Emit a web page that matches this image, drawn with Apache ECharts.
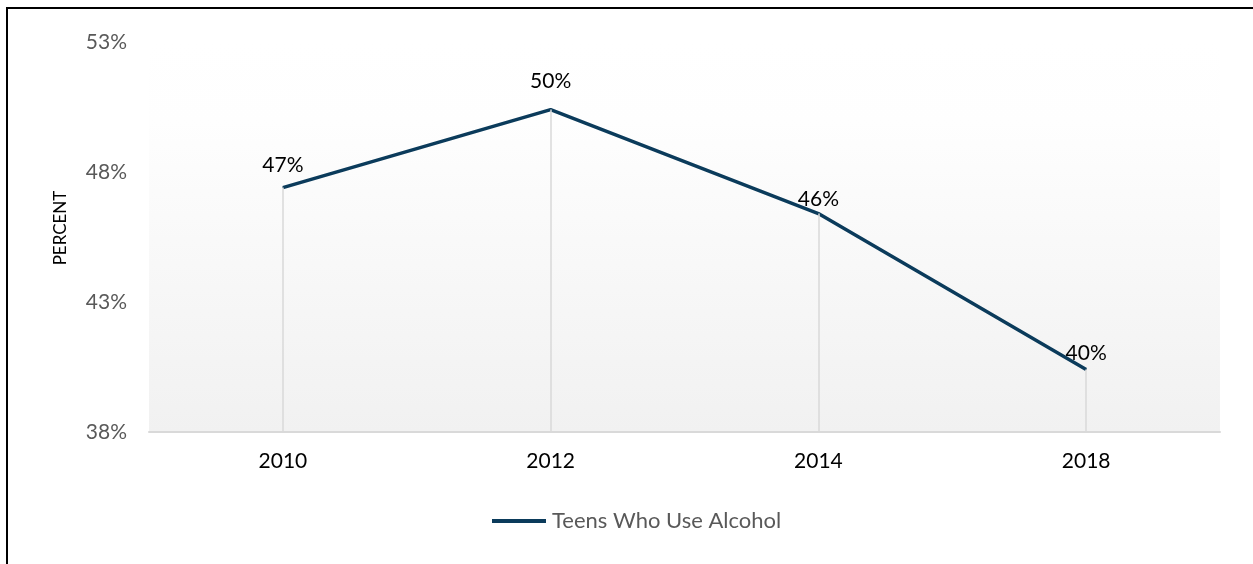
<!DOCTYPE html>
<html>
<head>
<meta charset="utf-8">
<script src="https://cdn.jsdelivr.net/npm/echarts@6/dist/echarts.min.js"></script>
<style>
  html, body { margin: 0; padding: 0; background: #ffffff; }
  #chart { width: 1253px; height: 564px; }
</style>
</head>
<body>
<div id="chart"></div>
<script>
// Survey years and share of teens reporting alcohol use (percent)
const years = ['2010', '2012', '2014', '2018'];
const alcoholUse = [47.4, 50.4, 46.4, 40.4];
const seriesName = 'Teens Who Use Alcohol';
const yTicks = { min: 38, max: 53, step: 5 };

// Vertical offset of each value label above its point
const labelLift = [11, 17, 3, 5];

const font = 'Lato, "Open Sans", "Noto Sans", sans-serif';
const lineColor = '#0b3b5b';

const chart = echarts.init(document.getElementById('chart'), null, { renderer: 'canvas' });

const seriesData = alcoholUse.map((v, i) => ({
  value: v,
  label: { distance: labelLift[i] }
}));

// Drop lines from each point down to the category axis
const dropLines = alcoholUse.map((v, i) => [
  { coord: [years[i], yTicks.min] },
  { coord: [years[i], v] }
]);

chart.setOption({
  animation: false,
  backgroundColor: '#ffffff',
  graphic: [{
    type: 'rect',
    shape: { x: 7, y: 8, width: 1400, height: 700 },
    style: { fill: 'none', stroke: '#000000', lineWidth: 2 },
    silent: true,
    z: 100
  }],
  grid: {
    left: 149,
    right: 33,
    top: 42,
    bottom: 132,
    show: true,
    borderWidth: 0,
    backgroundColor: new echarts.graphic.LinearGradient(0, 0, 0, 1, [
      { offset: 0, color: '#ffffff' },
      { offset: 0.2, color: '#fefefe' },
      { offset: 1, color: '#f1f1f1' }
    ])
  },
  legend: {
    left: 492,
    top: 510,
    padding: 0,
    itemWidth: 54,
    itemHeight: 14,
    itemGap: 20,
    textStyle: { fontFamily: font, fontSize: 22, color: '#595959', padding: [0, 0, 0, 1] },
    data: [{ name: seriesName, icon: 'path://M0,6 L54,6 L54,10 L0,10 Z' }]
  },
  xAxis: {
    type: 'category',
    data: years,
    boundaryGap: true,
    axisLine: { show: true, lineStyle: { color: '#d9d9d9', width: 2 } },
    axisTick: { show: false },
    axisLabel: { fontFamily: font, fontSize: 21, color: '#000000', margin: 19 },
    splitLine: { show: false }
  },
  yAxis: {
    type: 'value',
    min: yTicks.min,
    max: yTicks.max,
    interval: yTicks.step,
    name: 'PERCENT',
    nameLocation: 'middle',
    nameGap: 80,
    nameRotate: 90,
    nameTextStyle: { fontFamily: font, fontSize: 17, color: '#000000', padding: [0, 0, 0, 18] },
    axisLine: { show: false },
    axisTick: { show: false },
    splitLine: { show: false },
    axisLabel: {
      fontFamily: font,
      fontSize: 21,
      color: '#595959',
      margin: 22,
      formatter: v => v + '%'
    }
  },
  series: [{
    name: seriesName,
    type: 'line',
    data: seriesData,
    symbol: 'circle',
    symbolSize: 1,
    showSymbol: true,
    lineStyle: { color: lineColor, width: 3.5 },
    itemStyle: { color: lineColor },
    label: {
      show: true,
      position: 'top',
      fontFamily: font,
      fontSize: 21,
      color: '#000000',
      formatter: p => Math.round(p.value) + '%'
    },
    markLine: {
      silent: true,
      symbol: ['none', 'none'],
      label: { show: false },
      lineStyle: { color: '#d9d9d9', width: 1.5, type: 'solid' },
      data: dropLines
    },
    z: 3
  }]
});
</script>
</body>
</html>
